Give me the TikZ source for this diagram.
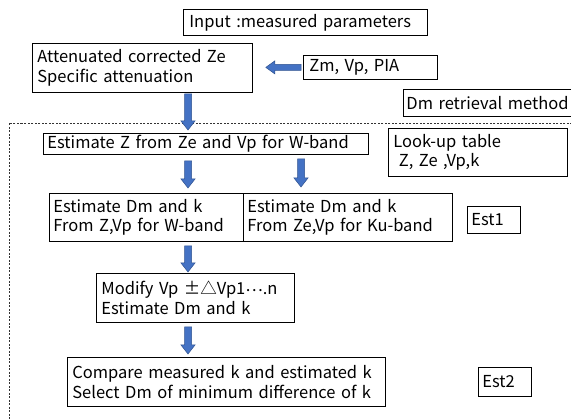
\documentclass[tikz,border=0pt]{standalone}
\usepackage{fontspec}
\setmainfont{Noto Sans CJK JP}
\usetikzlibrary{calc}

\definecolor{blkfill}{HTML}{4472C4}
\definecolor{blkline}{HTML}{2F528F}

\tikzset{
  box/.style={draw=black, line width=0.8pt, anchor=north west, align=left,
    inner xsep=6pt, inner ysep=0pt, font=\fontsize{16.5}{19.5}\selectfont},
  blk/.style={fill=blkfill, draw=blkline, line width=0.5pt},
  frame/.style={draw=black!80, line width=0.6pt, dash pattern=on 2pt off 1.5pt}
}

% downward block arrow from #1 to #2 (x taken from #1)
\newcommand\downblk[2]{%
  \draw[blk] let \p1=(#1), \p2=(#2) in
    (\x1-3.5pt,\y1) -- (\x1+3.5pt,\y1) -- (\x1+3.5pt,\y2+9pt) -- (\x1+7pt,\y2+9pt)
    -- (\x1,\y2) -- (\x1-7pt,\y2+9pt) -- (\x1-3.5pt,\y2+9pt) -- cycle;}
% leftward block arrow from #1 to #2 (y taken from #1)
\newcommand\leftblk[2]{%
  \draw[blk] let \p1=(#1), \p2=(#2) in
    (\x1,\y1-3pt) -- (\x1,\y1+3pt) -- (\x2+9pt,\y1+3pt) -- (\x2+9pt,\y1+6.5pt)
    -- (\x2,\y1) -- (\x2+9pt,\y1-6.5pt) -- (\x2+9pt,\y1-3pt) -- cycle;}

\begin{document}
\begin{tikzpicture}[x=1pt,y=1pt]
\useasboundingbox (0,0) rectangle (571,420);
\fill[white] (0,0) rectangle (571,420);

% dashed frame around the retrieval method
\draw[frame] (572,297) -- (9,297) -- (9,-1);

% boxes (positions are top-left corners)
\node[box, minimum width=244pt, minimum height=26pt, text width=232pt] (in) at (183,411)
  {Input :measured parameters};
\node[box, minimum width=220pt, minimum height=49pt, text width=210pt, inner xsep=5pt] (att) at (32,377)
  {Attenuated corrected Ze\\Specific attenuation};
\node[box, minimum width=134pt, minimum height=24pt, text width=122pt] (zm) at (303,365)
  {Zm, Vp, PIA};
\node[box, minimum width=176pt, minimum height=27pt, text width=170pt, inner xsep=3pt] (dm) at (403,331)
  {Dm retrieval method};
\node[box, minimum width=325pt, minimum height=21pt, text width=317pt, inner xsep=4pt] (estz) at (43,287)
  {Estimate Z from Ze and Vp for W-band};
\node[box, minimum width=179pt, minimum height=48pt, text width=169pt, inner xsep=5pt] (lut) at (388,292)
  {Look-up table\\\ Z, Ze ,Vp,k};
\node[box, minimum width=194pt, minimum height=48pt, text width=186pt, inner xsep=4pt] (dmw) at (49,227)
  {Estimate Dm and k\\From Z,Vp for W-band};
\node[box, minimum width=209pt, minimum height=48pt, text width=201pt, inner xsep=4pt] (dmk) at (243,227)
  {Estimate Dm and k\\From Ze,Vp for Ku-band};
\node[box, minimum width=53pt, minimum height=27pt, text width=45pt, inner xsep=4pt] (est1) at (467,214)
  {Est1};
\node[box, minimum width=198pt, minimum height=49pt, text width=188pt, inner xsep=5pt] (mod) at (96,147)
  {Modify Vp ±△Vp1\raisebox{0.22em}{…}.n\\Estimate Dm and k};
\node[box, minimum width=318pt, minimum height=49pt, text width=312pt, inner xsep=3pt] (cmp) at (67,63)
  {\hspace*{2pt}Compare measured k and estimated k\\\hspace*{2pt}Select Dm of minimum difference of k};
\node[box, minimum width=53pt, minimum height=29pt, text width=45pt, inner xsep=4pt] (est2) at (478,53)
  {Est2};

% columns of the block arrows
\coordinate (cA) at (188,0);
\coordinate (cB) at (301,0);

% block arrows
\leftblk{[xshift=-2pt]zm.west}{[xshift=13pt]att.east}
\downblk{[yshift=-1pt]att.south -| cA}{[yshift=3pt]estz.north -| cA}
\downblk{[yshift=-6pt]estz.south -| cA}{[yshift=5pt]dmw.north -| cA}
\downblk{[yshift=-4pt]estz.south -| cB}{[yshift=6pt]dmk.north -| cB}
\downblk{[yshift=-4pt]dmw.south -| cA}{[yshift=1pt]mod.north -| cA}
\downblk{[yshift=-4pt]mod.south -| cA}{[yshift=3pt]cmp.north -| cA}
\end{tikzpicture}
\end{document}
